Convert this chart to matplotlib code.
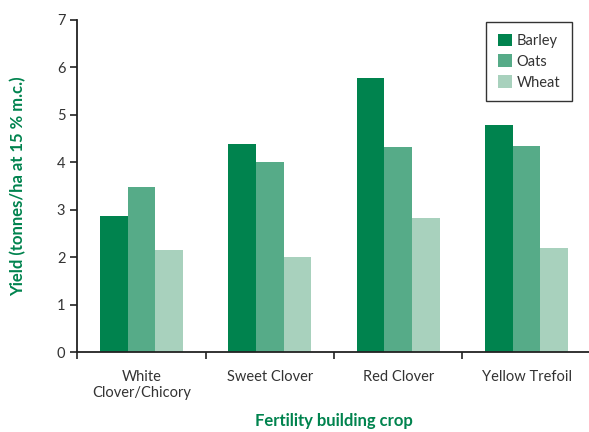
import matplotlib.pyplot as plt
import numpy as np

# data
crops = ["White\nClover/Chicory", "Sweet Clover", "Red Clover", "Yellow Trefoil"]
barley = [2.87, 4.39, 5.77, 4.79]
oats = [3.48, 4.01, 4.32, 4.34]
wheat = [2.15, 2.01, 2.83, 2.20]
series_names = ["Barley", "Oats", "Wheat"]
colours = ["#00834e", "#56ab88", "#a8d1bd"]

plt.rcParams['font.family'] = ['Lato', 'DejaVu Sans']

fig = plt.figure(figsize=(5.89, 4.32), dpi=100)
ax = fig.add_axes([0.131, 0.185, 0.872, 0.769])

x = np.arange(len(crops))
w = 0.215
for i, (vals, name, col) in enumerate(zip([barley, oats, wheat], series_names, colours)):
    ax.bar(x + (i - 1) * w, vals, width=w, color=col, label=name)

ax.set_xlim(-0.5, 3.5)
ax.set_ylim(0, 7)
ax.set_yticks(range(0, 8))
ax.set_xticks(x)
ax.set_xticklabels(crops, fontsize=10.5, color="#333333")
ax.set_xticks(np.arange(-0.5, 3.6, 1), minor=True)
ax.tick_params(axis="x", which="major", length=0, pad=13)
ax.tick_params(axis="x", which="minor", length=5, width=1.2, color="#222222")
ax.tick_params(axis="y", length=5, width=1.2, color="#222222", labelsize=10.5, labelcolor="#333333")

for s in ["top", "right"]:
    ax.spines[s].set_visible(False)
for s in ["left", "bottom"]:
    ax.spines[s].set_linewidth(1.3)
    ax.spines[s].set_color("#222222")

green = "#00834e"
ax.set_ylabel("Yield (tonnes/ha at 15 % m.c.)", fontsize=12, fontweight="bold", color=green, labelpad=22)
ax.set_xlabel("Fertility building crop", fontsize=12, fontweight="bold", color=green, labelpad=9)

leg = ax.legend(loc="upper right", bbox_to_anchor=(0.963, 0.994), borderaxespad=0, fontsize=10.5,
                fancybox=False, edgecolor="#333333", handlelength=1.0, handleheight=0.95,
                handletextpad=0.3, borderpad=0.8, labelspacing=0.45, framealpha=1)
leg.get_frame().set_linewidth(1.0)
for t in leg.get_texts():
    t.set_color("#333333")

fig.savefig("out.png", dpi=100)
